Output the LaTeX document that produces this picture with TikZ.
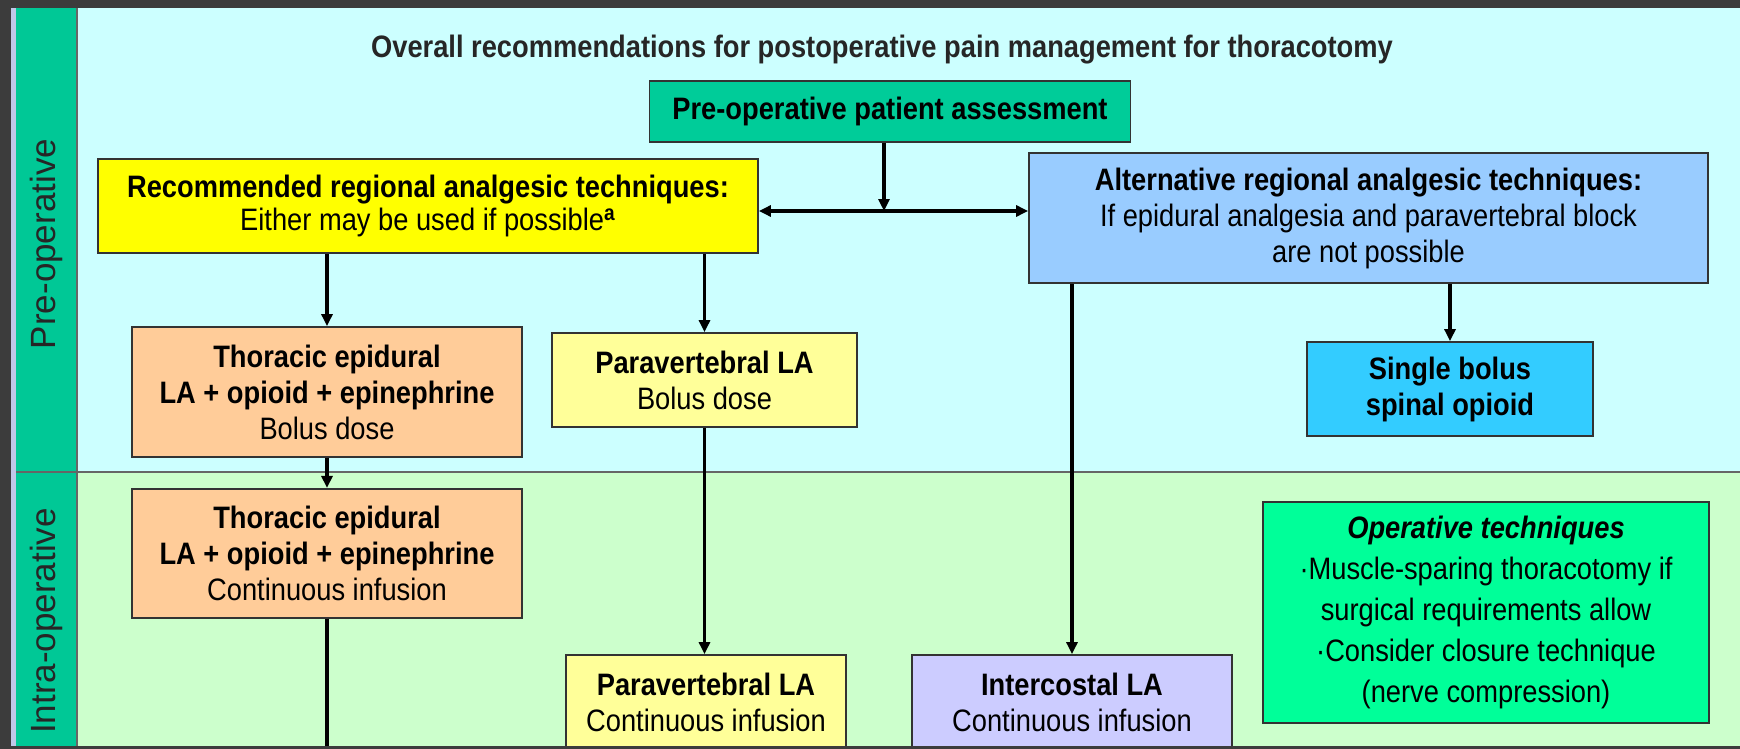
\documentclass[tikz,border=0pt]{standalone}
\usepackage{fontspec}
\setmainfont{Liberation Sans}[FakeStretch=0.88]
\newfontfamily\bandfont{Liberation Sans}
\usepackage{tikz}
\usetikzlibrary{positioning}
\usetikzlibrary{arrows.meta}

\begin{document}
\begin{tikzpicture}[x=0.5pt,y=-0.5pt,->,>={Triangle[length=6pt,width=5.5pt]},line width=1.6pt,
	box/.style={rectangle,draw=black!80,line width=0.9pt,align=center,inner sep=0pt,
		font=\fontsize{15.5}{18}\selectfont},
	band text/.style={rotate=90,text=black!85,font=\bandfont\fontsize{17.5}{20}\selectfont}]
	
	\definecolor{frame}{RGB}{60,60,60}
	\definecolor{lavender}{RGB}{192,200,232}
	\definecolor{bandgreen}{RGB}{0,200,150}
	\definecolor{topcyan}{RGB}{204,255,255}
	\definecolor{lowgreen}{RGB}{204,255,204}
	\definecolor{assessgreen}{RGB}{0,204,153}
	\definecolor{recyellow}{RGB}{255,255,0}
	\definecolor{altblue}{RGB}{153,204,255}
	\definecolor{epipeach}{RGB}{255,204,153}
	\definecolor{pvyellow}{RGB}{255,255,153}
	\definecolor{spinalblue}{RGB}{51,204,255}
	\definecolor{iclilac}{RGB}{204,204,255}
	\definecolor{opmint}{RGB}{0,255,153}
	
	% background and phase bands
	\useasboundingbox (0,0) rectangle (1740,749);
	\fill[frame] (0,0) rectangle (1740,749);
	\fill[lavender] (11,8) rectangle (16,749);
	\fill[topcyan] (16,8) rectangle (1740,472);
	\fill[lowgreen] (16,472) rectangle (1740,749);
	\fill[bandgreen] (16,8) rectangle (77,749);
	\draw[-,line width=0.6pt,black!60] (16,472) -- (1740,472);
	\draw[-,line width=0.6pt,black!60] (77,8) -- (77,749);
	
	\node[band text] (pre) at (46,244) {Pre-operative};
	\node[band text] (intra) at (46,621) {Intra-operative};
	
	\node[font=\bfseries\fontsize{15.5}{18}\selectfont,text=black!85] (title) at (882,50)
		{Overall recommendations for postoperative pain management for thoracotomy};
	
	\node[box,fill=assessgreen,minimum width=240.5pt,minimum height=30.5pt] (assess) at (890,111.5)
		{\bfseries Pre-operative patient assessment};
	\node[box,fill=recyellow,minimum width=330pt,minimum height=47pt,
		font=\fontsize{15.5}{16.5}\selectfont] (recom) at (428,206)
		{\textbf{Recommended regional analgesic techniques:}\\Either may be used if possible\textsuperscript{\bfseries a}};
	\node[box,fill=altblue,minimum width=339.5pt,minimum height=65pt] (alt) at (1368.5,218)
		{\textbf{Alternative regional analgesic techniques:}\\If epidural analgesia and paravertebral block\\are not possible};
	
	\node[box,fill=epipeach,minimum width=195pt,minimum height=65pt] (epi1) at (327,392)
		{\textbf{Thoracic epidural}\\\textbf{LA + opioid + epinephrine}\\Bolus dose};
	\node[box,fill=epipeach,minimum width=195pt,minimum height=64.5pt] (epi2) [below=15pt of epi1]
		{\textbf{Thoracic epidural}\\\textbf{LA + opioid + epinephrine}\\Continuous infusion};
	\node[box,fill=pvyellow,minimum width=152.5pt,minimum height=47pt] (pv1) at (704.5,380)
		{\textbf{Paravertebral LA}\\Bolus dose};
	\node[box,fill=spinalblue,minimum width=143pt,minimum height=47pt] (spinal) at (1450,389)
		{\textbf{Single bolus}\\\textbf{spinal opioid}};
	
	\node[box,fill=pvyellow,minimum width=140pt,minimum height=47pt] (pv2) at (706,702)
		{\textbf{Paravertebral LA}\\Continuous infusion};
	\node[box,fill=iclilac,minimum width=160pt,minimum height=47pt] (ic) at (1072,702)
		{\textbf{Intercostal LA}\\Continuous infusion};
	\node[box,fill=opmint,minimum width=223pt,minimum height=110.5pt,
		font=\fontsize{15.5}{20.5}\selectfont] (op) at (1486,612.5)
		{\textbf{\itshape Operative techniques}\\·Muscle-sparing thoracotomy if\\surgical requirements allow\\·Consider closure technique\\(nerve compression)};
	
	\coordinate (split) at (884,211);
	\coordinate (epiend) at (327,760);
	
	\path
	(assess.south -| split) edge (split)
	(split) edge (split -| recom.east)
	(split) edge (split -| alt.west)
	(recom.south -| epi1.north) edge (epi1.north)
	(recom.south -| pv1.north) edge (pv1.north)
	(epi1) edge (epi2)
	(pv1.south) edge (pv1.south |- pv2.north)
	(alt.south -| spinal.north) edge (spinal.north)
	(alt.south -| ic.north) edge (ic.north)
	(epi2.south) edge[-] (epiend);
	
	\fill[frame] (0,746) rectangle (1740,749);
\end{tikzpicture}
\end{document}
